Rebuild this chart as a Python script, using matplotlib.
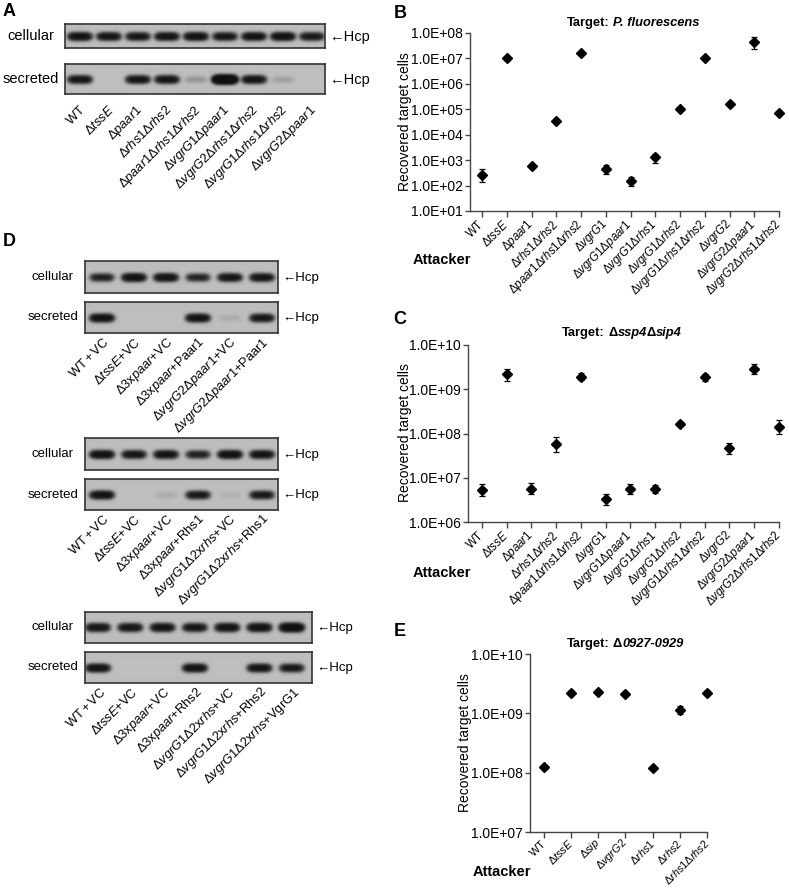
import numpy as np
import matplotlib
matplotlib.use("Agg")
import matplotlib.pyplot as plt
from matplotlib.ticker import NullLocator

plt.rcParams['font.family'] = ['Liberation Sans', 'DejaVu Sans']
plt.rcParams['mathtext.fontset'] = 'custom'
plt.rcParams['mathtext.rm'] = 'Liberation Sans'
plt.rcParams['mathtext.it'] = 'Liberation Sans:italic'
plt.rcParams['mathtext.bf'] = 'Liberation Sans:bold'

W, H = 789, 889

# ---------------- DATA ----------------
# Panel A blot
A_labels = [r"$\mathrm{WT}$", r"$\Delta\mathit{tssE}$", r"$\Delta\mathit{paar1}$",
            r"$\Delta\mathit{rhs1}\Delta\mathit{rhs2}$",
            r"$\Delta\mathit{paar1}\Delta\mathit{rhs1}\Delta\mathit{rhs2}$",
            r"$\Delta\mathit{vgrG1}\Delta\mathit{paar1}$",
            r"$\Delta\mathit{vgrG2}\Delta\mathit{rhs1}\Delta\mathit{rhs2}$",
            r"$\Delta\mathit{vgrG1}\Delta\mathit{rhs1}\Delta\mathit{rhs2}$",
            r"$\Delta\mathit{vgrG2}\Delta\mathit{paar1}$"]
A_cellular = [0.95, 0.85, 0.80, 0.90, 0.95, 0.80, 0.90, 1.00, 0.75]
A_secreted = [0.85, 0.00, 0.85, 0.85, 0.07, 2.50, 0.90, 0.05, 0.00]

# Panel D blots
D1_labels = [r"$\mathrm{WT+VC}$", r"$\Delta\mathit{tssE}\mathrm{+VC}$",
             r"$\Delta\mathrm{3x}\mathit{paar}\mathrm{+VC}$",
             r"$\Delta\mathrm{3x}\mathit{paar}\mathrm{+Paar1}$",
             r"$\Delta\mathit{vgrG2}\Delta\mathit{paar1}\mathrm{+VC}$",
             r"$\Delta\mathit{vgrG2}\Delta\mathit{paar1}\mathrm{+Paar1}$"]
D1_cellular = [0.60, 1.00, 0.95, 0.55, 0.85, 0.85]
D1_secreted = [1.00, 0.00, 0.00, 0.95, 0.03, 0.80]

D2_labels = [r"$\mathrm{WT+VC}$", r"$\Delta\mathit{tssE}\mathrm{+VC}$",
             r"$\Delta\mathrm{3x}\mathit{paar}\mathrm{+VC}$",
             r"$\Delta\mathrm{3x}\mathit{paar}\mathrm{+Rhs1}$",
             r"$\Delta\mathit{vgrG1}\Delta\mathrm{2x}\mathit{rhs}\mathrm{+VC}$",
             r"$\Delta\mathit{vgrG1}\Delta\mathrm{2x}\mathit{rhs}\mathrm{+Rhs1}$"]
D2_cellular = [1.00, 0.80, 0.90, 0.60, 1.00, 0.90]
D2_secreted = [0.95, 0.00, 0.03, 0.75, 0.02, 0.75]

D3_labels = [r"$\mathrm{WT+VC}$", r"$\Delta\mathit{tssE}\mathrm{+VC}$",
             r"$\Delta\mathrm{3x}\mathit{paar}\mathrm{+VC}$",
             r"$\Delta\mathrm{3x}\mathit{paar}\mathrm{+Rhs2}$",
             r"$\Delta\mathit{vgrG1}\Delta\mathrm{2x}\mathit{rhs}\mathrm{+VC}$",
             r"$\Delta\mathit{vgrG1}\Delta\mathrm{2x}\mathit{rhs}\mathrm{+Rhs2}$",
             r"$\Delta\mathit{vgrG1}\Delta\mathrm{2x}\mathit{rhs}\mathrm{+VgrG1}$"]
D3_cellular = [0.85, 0.85, 0.90, 0.80, 0.95, 1.00, 1.40]
D3_secreted = [0.95, 0.00, 0.00, 0.95, 0.00, 0.90, 0.75]

# Panels B and C attackers
BC_labels = [r"$\mathrm{WT}$", r"$\Delta\mathit{tssE}$", r"$\Delta\mathit{paar1}$",
             r"$\Delta\mathit{rhs1}\Delta\mathit{rhs2}$",
             r"$\Delta\mathit{paar1}\Delta\mathit{rhs1}\Delta\mathit{rhs2}$",
             r"$\Delta\mathit{vgrG1}$", r"$\Delta\mathit{vgrG1}\Delta\mathit{paar1}$",
             r"$\Delta\mathit{vgrG1}\Delta\mathit{rhs1}$",
             r"$\Delta\mathit{vgrG1}\Delta\mathit{rhs2}$",
             r"$\Delta\mathit{vgrG1}\Delta\mathit{rhs1}\Delta\mathit{rhs2}$",
             r"$\Delta\mathit{vgrG2}$", r"$\Delta\mathit{vgrG2}\Delta\mathit{paar1}$",
             r"$\Delta\mathit{vgrG2}\Delta\mathit{rhs1}\Delta\mathit{rhs2}$"]

B_mean = [2.5e2, 1.0e7, 6.0e2, 3.6e4, 1.6e7, 4.6e2, 1.5e2, 1.3e3, 1.05e5, 1.0e7, 1.6e5, 4.5e7, 7.0e4]
B_low  = [1.4e2, 9.0e6, 4.7e2, 3.2e4, 1.45e7, 2.9e2, 1.0e2, 8.0e2, 9.5e4, 9.0e6, 1.45e5, 2.4e7, 6.3e4]
B_high = [4.5e2, 1.1e7, 7.2e2, 4.1e4, 1.75e7, 6.5e2, 2.2e2, 1.8e3, 1.15e5, 1.1e7, 1.75e5, 6.8e7, 7.7e4]

C_mean = [5.2e6, 2.2e9, 5.7e6, 5.9e7, 1.9e9, 3.3e6, 5.5e6, 5.5e6, 1.6e8, 1.85e9, 4.6e7, 2.9e9, 1.4e8]
C_low  = [3.8e6, 1.55e9, 4.2e6, 3.8e7, 1.6e9, 2.4e6, 4.2e6, 4.6e6, 1.5e8, 1.5e9, 3.4e7, 2.2e9, 9.6e7]
C_high = [7.4e6, 2.8e9, 7.6e6, 8.3e7, 2.3e9, 4.4e6, 7.1e6, 6.7e6, 1.8e8, 2.2e9, 6.2e7, 3.7e9, 2.0e8]

E_labels = [r"$\mathrm{WT}$", r"$\Delta\mathit{tssE}$", r"$\Delta\mathit{sip}$",
            r"$\Delta\mathit{vgrG2}$", r"$\Delta\mathit{rhs1}$", r"$\Delta\mathit{rhs2}$",
            r"$\Delta\mathit{rhs1}\Delta\mathit{rhs2}$"]
E_mean = [1.25e8, 2.2e9, 2.3e9, 2.1e9, 1.2e8, 1.14e9, 2.2e9]
E_low  = [1.18e8, 2.05e9, 2.15e9, 1.95e9, 1.13e8, 0.98e9, 2.05e9]
E_high = [1.32e8, 2.35e9, 2.45e9, 2.3e9, 1.27e8, 1.32e9, 2.4e9]

# ---------------- FIGURE ----------------
fig = plt.figure(figsize=(W / 100, H / 100), dpi=100)
fig.patch.set_facecolor('white')


def fx(x):
    return x / W


def fy(y):
    return 1 - y / H


def add_ax(x0, y0, x1, y1):
    return fig.add_axes([fx(x0), fy(y1), (x1 - x0) / W, (y1 - y0) / H])


def blot(x0, y0, x1, y1, lane0, spacing, intens, hw=11.0, hh=3.4):
    ax = add_ax(x0, y0, x1, y1)
    w, h = x1 - x0, y1 - y0
    res = 4
    xs = (np.arange(int(w * res)) + 0.5) / res
    ys = (np.arange(int(h * res)) + 0.5) / res
    X, Y = np.meshgrid(xs, ys)
    bg = 0.72 + 0.03 * np.exp(-((Y - h / 2) / (h * 0.6)) ** 2)
    dens = np.zeros_like(X)
    for i, I in enumerate(intens):
        xc = lane0 - x0 + i * spacing
        yc = h / 2 + 0.5
        p = np.exp(-(np.abs((X - xc) / hw) ** 4 + ((Y - yc) / hh) ** 2))
        dens += I * p
    dark = 1 - np.exp(-4.0 * dens)
    img = bg * (1 - dark) + 0.06 * dark
    ax.imshow(img, cmap='gray', vmin=0, vmax=1, extent=[0, w, h, 0],
              aspect='auto', interpolation='bilinear')
    ax.set_xlim(0, w)
    ax.set_ylim(h, 0)
    ax.set_xticks([])
    ax.set_yticks([])
    for s in ax.spines.values():
        s.set_color('#333333')
        s.set_linewidth(1.2)
    return ax


def blot_set(x0, x1, cy, sy, lane0, spacing, cell, sec, labels, lab_x_off, lab_y_off,
             name_x, fs_name, fs_lab):
    blot(x0, cy[0], x1, cy[1], lane0, spacing, cell)
    blot(x0, sy[0], x1, sy[1], lane0, spacing, sec)
    for (ya, yb), nm in ((cy, 'cellular'), (sy, 'secreted')):
        ym = (ya + yb) / 2
        fig.text(fx(name_x), fy(ym), nm, fontsize=fs_name, ha='center', va='center')
        fig.text(fx(x1 + 4), fy(ym + 1), "\u2190Hcp", fontsize=fs_name, ha='left',
                 va='center')
    for i, lab in enumerate(labels):
        lx = lane0 + i * spacing + lab_x_off
        fig.text(fx(lx), fy(sy[1] + lab_y_off), lab, fontsize=fs_lab, rotation=45,
                 rotation_mode='anchor', ha='right', va='center')


# Panel A
blot_set(65, 325, (24, 48), (64, 94), 80, 29.0, A_cellular, A_secreted, A_labels,
         3, 14, 31, 10.5, 9.3)

# Panel D
blot_set(85, 278, (261, 293), (302, 333), 102, 32.0, D1_cellular, D1_secreted, D1_labels,
         5, 7, 53, 9.5, 9.3)
blot_set(85, 278, (438, 470), (479, 510), 102, 32.0, D2_cellular, D2_secreted, D2_labels,
         5, 7, 53, 9.5, 9.3)
blot_set(85, 312, (612, 643), (652, 683), 98, 32.3, D3_cellular, D3_secreted, D3_labels,
         6, 7, 53, 9.5, 9.3)


def scatter_panel(x0, y0, x1, y1, labels, mean, low, high, ylo, yhi, left_pad,
                  xfs=8.3, xpad=4):
    ax = add_ax(x0, y0, x1, y1)
    n = len(labels)
    x = np.arange(n)
    mean = np.array(mean)
    err = [mean - np.array(low), np.array(high) - mean]
    ax.errorbar(x, mean, yerr=err, fmt='D', color='black', ms=5, elinewidth=0.9,
                capsize=2.5, capthick=0.9, clip_on=False, zorder=3)
    ax.set_yscale('log')
    ax.set_ylim(ylo, yhi)
    ax.set_xlim(-left_pad, n - 1)
    exps = range(int(round(np.log10(ylo))), int(round(np.log10(yhi))) + 1)
    ax.set_yticks([10.0 ** e for e in exps])
    ax.set_yticklabels(["1.0E+%02d" % e for e in exps])
    ax.yaxis.set_minor_locator(NullLocator())
    ax.set_xticks(x)
    ax.set_xticklabels(labels, rotation=45, ha='right', va='center',
                       rotation_mode='anchor', fontsize=xfs)
    for s in ('top', 'right'):
        ax.spines[s].set_visible(False)
    for s in ('left', 'bottom'):
        ax.spines[s].set_color('#444444')
        ax.spines[s].set_linewidth(1.0)
    ax.tick_params(axis='y', length=3.5, width=1, color='#444444', labelsize=10, pad=1.5)
    ax.tick_params(axis='x', length=4, width=1, color='#444444', pad=xpad)
    ax.set_facecolor('none')
    return ax


scatter_panel(470, 33, 779, 211, BC_labels, B_mean, B_low, B_high, 1e1, 1e8, 0.485)
scatter_panel(468, 345, 779, 522, BC_labels, C_mean, C_low, C_high, 1e6, 1e10, 0.56)
scatter_panel(530, 654, 707, 832, E_labels, E_mean, E_low, E_high, 1e7, 1e10, 0.515,
              xfs=7.9, xpad=2.5)

# y labels & Attacker labels
for (xx, yy) in ((405, 122), (405, 433), (465, 743)):
    fig.text(fx(xx), fy(yy), "Recovered target cells", rotation=90, fontsize=10,
             ha='center', va='center')
for (xx, yy) in ((442, 260), (442, 573), (502, 872)):
    fig.text(fx(xx), fy(yy), "Attacker", fontsize=10.5, fontweight='bold',
             ha='center', va='center')

# Panel letters
for lt, (xx, yy) in (('A', (9, 12)), ('B', (400, 13)), ('C', (400, 319)),
                     ('D', (9, 241)), ('E', (400, 631))):
    fig.text(fx(xx), fy(yy), lt, fontsize=13, fontweight='bold', ha='center', va='center')

# Titles (rich text)
renderer = fig.canvas.get_renderer()


def rich(xc, yc, parts, size=9.3):
    objs = []
    for s, style, gap in parts:
        t = fig.text(0, fy(yc), s, fontsize=size, fontweight='bold', fontstyle=style,
                     ha='left', va='center')
        objs.append((t, gap))
    widths = [t.get_window_extent(renderer).width + g for t, g in objs]
    x = xc - sum(widths) / 2
    for (t, g), wdt in zip(objs, widths):
        t.set_x(fx(x))
        x += wdt


rich(633, 23, [("Target:", 'normal', 3.5), ("P. fluorescens", 'italic', 0)])
rich(622, 333, [("Target:", 'normal', 3.5), ("\u0394", 'normal', 0), ("ssp4", 'italic', 0),
                ("\u0394", 'normal', 0), ("sip4", 'italic', 0)])
rich(625, 644, [("Target:", 'normal', 3.5), ("\u0394", 'normal', 0), ("0927-0929", 'italic', 0)])

fig.savefig("out.png", dpi=100)
